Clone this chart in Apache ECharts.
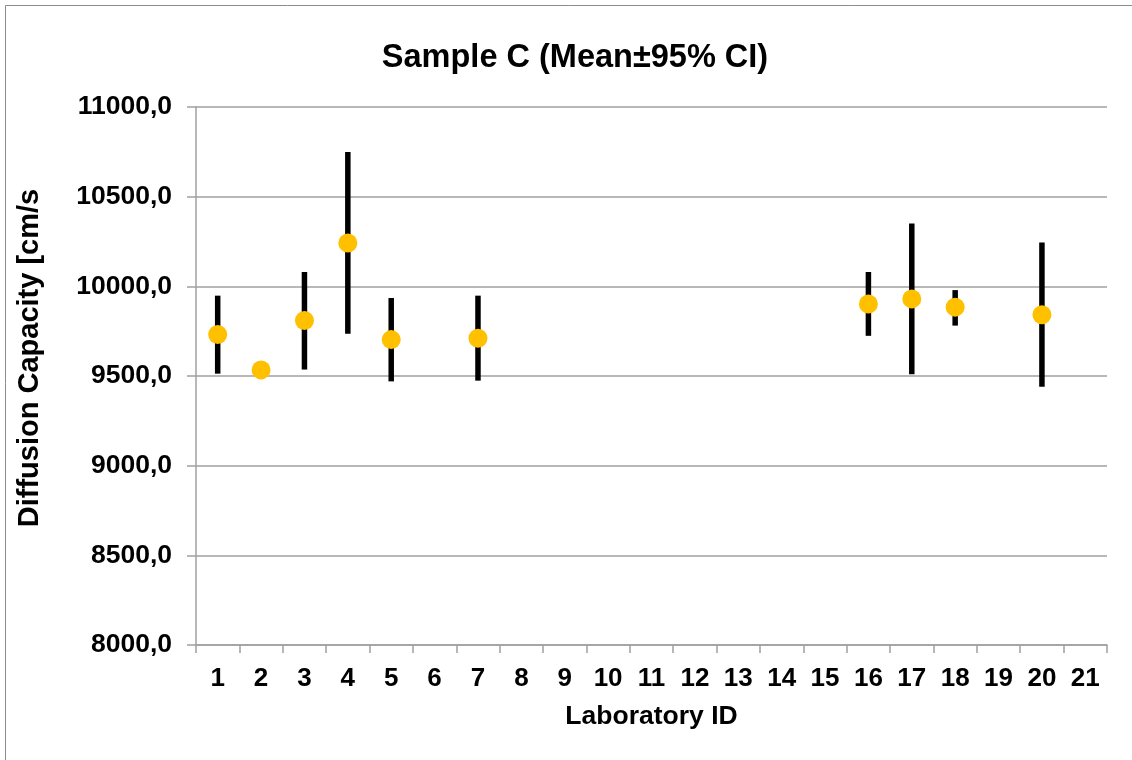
<!DOCTYPE html>
<html><head><meta charset="utf-8">
<script src="https://cdn.jsdelivr.net/npm/echarts@6/dist/echarts.min.js"></script>
<style>html,body{margin:0;padding:0;background:#fff}#c{width:1132px;height:760px}</style>
</head><body><div id="c"></div>
<script>
const categories = ['1','2','3','4','5','6','7','8','9','10','11','12','13','14','15','16','17','18','19','20','21'];
const labIds = ['1','2','3','4','5','7','16','17','18','20'];
const means  = [9731, 9534, 9809, 10242, 9703, 9710, 9902, 9930, 9884, 9842];
const lower  = [9513, 9508, 9536, 9735, 9470, 9474, 9724, 9510, 9781, 9440];
const upper  = [9948, 9562, 10080, 10749, 9935, 9948, 10080, 10350, 9979, 10245];
const yTicks = {min: 8000, max: 11000, interval: 500};

const F = '"Liberation Sans", Arial, sans-serif';
const chart = echarts.init(document.getElementById('c'));
chart.setOption({
  animation: false,
  backgroundColor: '#fff',
  title: {text: 'Sample C (Mean\u00b195% CI)', left: 570, top: 37, textAlign: 'center',
    textStyle: {fontFamily: F, fontWeight: 'bold', fontSize: 32.5, color: '#000'}},
  graphic: [
    {type: 'rect', shape: {x: 5.5, y: 5.5, width: 1200, height: 800}, style: {fill: 'none', stroke: '#8c8c8c', lineWidth: 1}, silent: true},
    {type: 'text', x: 30, y: 358, rotation: Math.PI/2,
      style: {text: 'Diffusion Capacity [cm/s', fontFamily: F, fontWeight: 'bold', fontSize: 29, fill: '#000', align: 'center', verticalAlign: 'middle'}}
  ],
  grid: {left: 196, right: 25, top: 107, bottom: 115},
  xAxis: {type: 'category', data: categories, boundaryGap: true,
    name: 'Laboratory ID', nameLocation: 'middle', nameGap: 58,
    nameTextStyle: {fontFamily: F, fontWeight: 'bold', fontSize: 26.5, color: '#000'},
    axisLine: {lineStyle: {color: '#a0a0a0', width: 1.5}},
    axisTick: {show: true, interval: 0, length: 8, lineStyle: {color: '#a0a0a0', width: 1.5}},
    axisLabel: {interval: 0, margin: 21, fontFamily: F, fontWeight: 'bold', fontSize: 26, color: '#000'},
    splitLine: {show: false}},
  yAxis: {type: 'value', min: yTicks.min, max: yTicks.max, interval: yTicks.interval,
    axisLine: {show: true, lineStyle: {color: '#a0a0a0', width: 1.5}},
    axisTick: {show: true, length: 9, lineStyle: {color: '#a0a0a0', width: 1.5}},
    axisLabel: {margin: 24, fontFamily: F, fontWeight: 'bold', fontSize: 26.5, color: '#000',
      formatter: v => v.toFixed(1).replace('.', ',')},
    splitLine: {lineStyle: {color: '#a0a0a0', width: 1.5}}},
  series: [
    {type: 'custom', z: 2,
      data: labIds.map((id, i) => [id, lower[i], upper[i]]),
      renderItem: (params, api) => {
        const p1 = api.coord([api.value(0), api.value(1)]);
        const p2 = api.coord([api.value(0), api.value(2)]);
        return {type: 'line', shape: {x1: p1[0], y1: p1[1], x2: p2[0], y2: p2[1]},
          style: {stroke: '#000', lineWidth: 5.5}};
      }},
    {type: 'scatter', z: 3, symbol: 'circle', symbolSize: 19,
      data: labIds.map((id, i) => [id, means[i]]),
      itemStyle: {color: '#FFC000', opacity: 1}}
  ]
});
</script></body></html>
